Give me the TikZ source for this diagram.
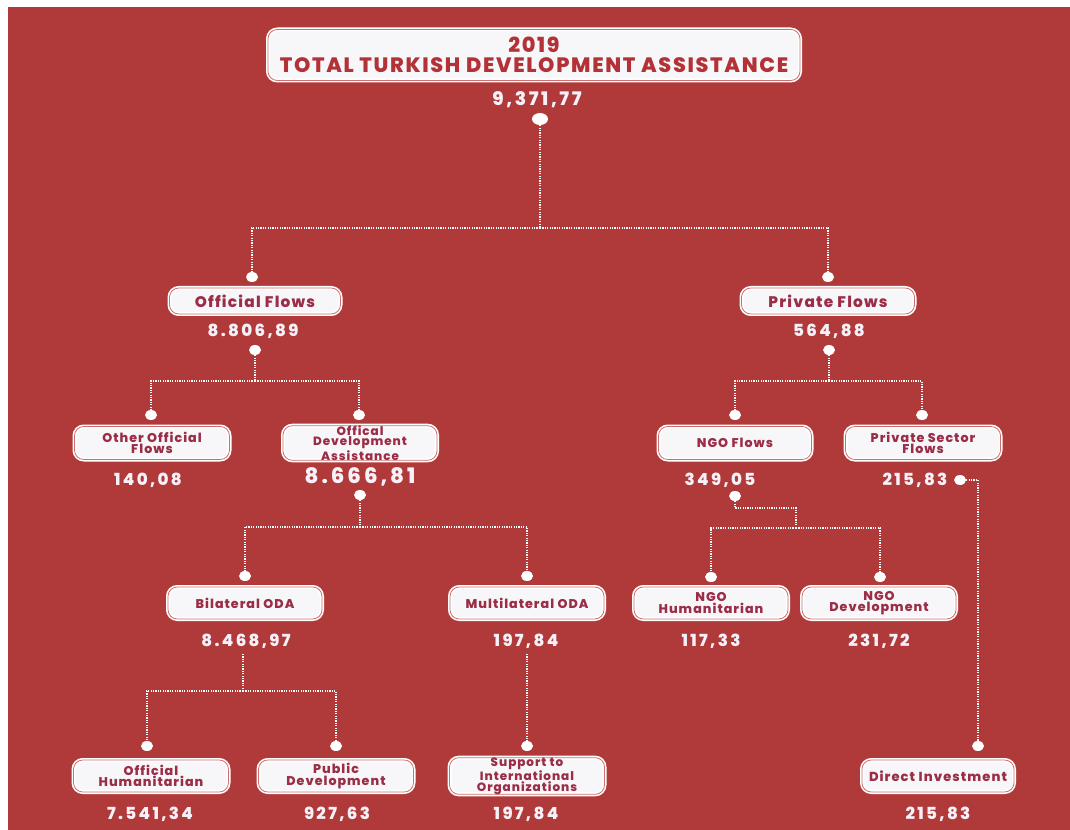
\documentclass[tikz,border=0pt]{standalone}
\usepackage{fontspec}
\setmainfont{Poppins}
\IfFontExistsTF{Poppins ExtraBold}{%
  \newfontfamily\popx{Poppins ExtraBold}[LetterSpace=8]%
  \newfontfamily\popn{Poppins ExtraBold}[LetterSpace=14]%
  \newcommand\pop{\popx}\newcommand\popnum{\popn}%
}{%
  \newfontfamily\popx{Poppins}[LetterSpace=8]%
  \newfontfamily\popn{Poppins}[LetterSpace=14]%
  \newcommand\pop{\popx\bfseries}\newcommand\popnum{\popn\bfseries}%
}
\usetikzlibrary{shapes.geometric}
\definecolor{bg}{RGB}{176,58,58}
\definecolor{boxfill}{RGB}{247,247,250}
\definecolor{boxline}{RGB}{205,110,110}
\definecolor{boxtext}{RGB}{155,45,70}
\definecolor{titletext}{RGB}{178,50,55}
\definecolor{numtext}{RGB}{246,241,248}
\begin{document}
\begin{tikzpicture}[x=0.75pt,y=-0.75pt,
  bx/.style={rectangle, rounded corners=7pt, fill=boxfill, draw=white, line width=1.2pt,
    double=boxline, double distance=0.6pt, inner sep=0pt, align=center, text=boxtext,
    font=\pop\fontsize{9.5}{8.5}\selectfont},
  sz/.style 2 args={minimum width=#1*0.75pt, minimum height=#2*0.75pt},
  num/.style={text=numtext, inner sep=0pt, font=\popnum\fontsize{12.5}{12.5}\selectfont},
  dotn/.style={ellipse, fill=white, inner sep=0pt, minimum width=9pt, minimum height=7.5pt},
  conn/.style={draw=white, line width=1pt, dash pattern=on 0.9pt off 0.9pt}
]
\useasboundingbox (0,0) rectangle (1070,830);
\fill[white] (0,0) rectangle (1070,830);
\fill[bg] (8,7) rectangle (1070,830);

% boxes
\node[bx, sz={532}{51}, text=titletext, font=\pop\fontsize{15.6}{15.2}\selectfont] (title) at (534,55) {2019\\TOTAL TURKISH DEVELOPMENT ASSISTANCE};
\node[bx, sz={171}{26}, font=\pop\fontsize{11.5}{11.5}\selectfont] (of) at (255,301) {Official Flows};
\node[bx, sz={173}{26}, font=\pop\fontsize{11.5}{11.5}\selectfont] (pf) at (828,301) {Private Flows};
\node[bx, sz={155}{33}] (oof) at (152,443) {Other Official\\Flows};
\node[bx, sz={154}{34}, font=\pop\fontsize{9}{7.8}\selectfont] (oda) at (360,443) {Offical\\Development\\Assistance};
\node[bx, sz={153}{33}] (ngo) at (735,443) {NGO Flows};
\node[bx, sz={155}{33}] (psf) at (923,443) {Private Sector\\Flows};
\node[bx, sz={154}{32}] (bil) at (245,603) {Bilateral ODA};
\node[bx, sz={154}{32}] (mul) at (527,603) {Multilateral ODA};
\node[bx, sz={154}{32}] (nh) at (711,603) {NGO\\Humanitarian};
\node[bx, sz={154}{32}] (nd) at (879,603) {NGO\\Development};
\node[bx, sz={155}{32}] (oh) at (151,776) {Official\\Humanitarian};
\node[bx, sz={155}{32}] (pd) at (336,776) {Public\\Development};
\node[bx, sz={155}{34}, font=\pop\fontsize{9}{7.8}\selectfont] (sup) at (527,776) {Support to\\International\\Organizations};
\node[bx, sz={152}{32}, font=\pop\fontsize{9.8}{9.8}\selectfont] (di) at (938,776) {Direct Investment};

% numbers
\node[num, font=\popnum\fontsize{14}{14}\selectfont] (n0) at (537,100) {9,371,77};
\node[num] (nof) at (253,331) {8.806,89};
\node[num] (npf) at (829,331) {564,88};
\node[num] (noof) at (148,480) {140,08};
\node[num, font=\popnum\fontsize{16}{16}\selectfont] (noda) at (360,477) {8.666,81};
\node[num] (nngo) at (720,480) {349,05};
\node[num] (npsf) at (915,480) {215,83};
\node[num] (nbil) at (246,641) {8.468,97};
\node[num] (nmul) at (526,641) {197,84};
\node[num] (nnh) at (711,641) {117,33};
\node[num] (nnd) at (879,641) {231,72};
\node[num] (noh) at (150,814) {7.541,34};
\node[num] (npd) at (337,814) {927,63};
\node[num] (nsup) at (526,814) {197,84};
\node[num] (ndi) at (938,814) {215,83};

% dots
\node[dotn, minimum width=12pt, minimum height=9pt] (d0) at (540,119) {};
\node[dotn] (dof) at (252,277) {};
\node[dotn] (dpf) at (828,277) {};
\node[dotn] (dofn) at (255,350) {};
\node[dotn] (dpfn) at (829,350) {};
\node[dotn] (doof) at (151,415) {};
\node[dotn] (doda) at (359,415) {};
\node[dotn] (dngo) at (735,415) {};
\node[dotn] (dpsf) at (922,415) {};
\node[dotn] (dodan) at (360,495) {};
\node[dotn] (dbil) at (245,576) {};
\node[dotn] (dmul) at (527,576) {};
\node[dotn] (dngon) at (735,496) {};
\node[dotn] (dpsfn) at (960,480) {};
\node[dotn] (dnh) at (711,577) {};
\node[dotn] (dnd) at (880,577) {};
\node[dotn] (doh) at (147,746) {};
\node[dotn] (dpd) at (336,746) {};
\node[dotn] (dsup) at (527,746) {};
\node[dotn] (ddi) at (978,746) {};

% junctions
\coordinate (j0) at (540,228);
\coordinate (j1) at (255,381);
\coordinate (j2) at (829,381);
\coordinate (j3) at (360,527);
\coordinate (jn1) at (735,508);
\coordinate (jn2) at (796,508);
\coordinate (jn3) at (796,528);
\coordinate (cbil) at (243,654);
\coordinate (j4) at (243,691);
\coordinate (cmul) at (527,654);

% connectors
\draw[conn] (d0) -- (j0);
\draw[conn] (j0) -| (dof);
\draw[conn] (j0) -| (dpf);
\draw[conn] (dofn) -- (j1);
\draw[conn] (j1) -| (doof);
\draw[conn] (j1) -| (doda);
\draw[conn] (dpfn) -- (j2);
\draw[conn] (j2) -| (dngo);
\draw[conn] (j2) -| (dpsf);
\draw[conn] (dodan) -- (j3);
\draw[conn] (j3) -| (dbil);
\draw[conn] (j3) -| (dmul);
\draw[conn] (dngon) -- (jn1) -- (jn2) -- (jn3);
\draw[conn] (jn3) -| (dnh);
\draw[conn] (jn3) -| (dnd);
\draw[conn] (cbil) -- (j4);
\draw[conn] (j4) -| (doh);
\draw[conn] (j4) -| (dpd);
\draw[conn] (cmul) -- (dsup);
\draw[conn] (dpsfn) -| (ddi);
\end{tikzpicture}
\end{document}
